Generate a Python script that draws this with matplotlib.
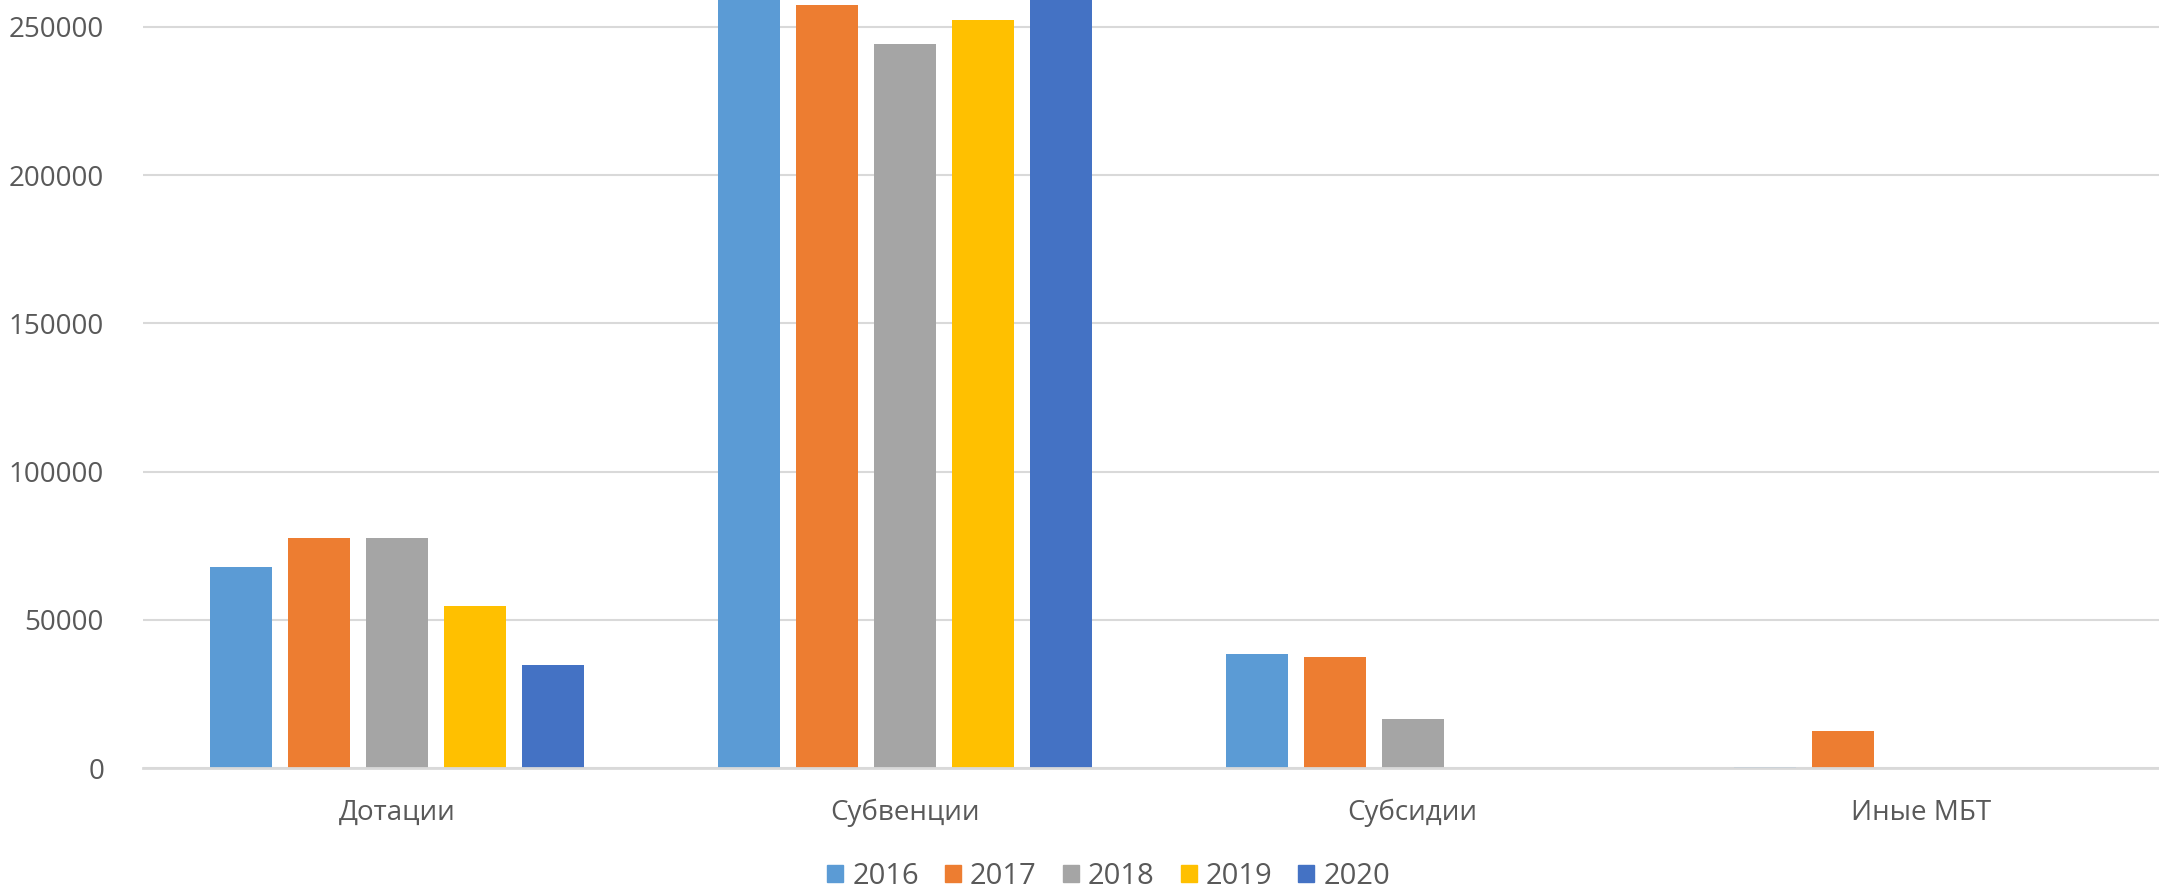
import numpy as np
import matplotlib.pyplot as plt
from matplotlib.patches import Patch

plt.rcParams['font.family'] = ['Open Sans', 'DejaVu Sans']

categories = ["Дотации", "Субвенции", "Субсидии", "Иные МБТ"]
years = ["2016", "2017", "2018", "2019", "2020"]
values = {
    "2016": [68000, 275000, 38600, 500],
    "2017": [77600, 257400, 37600, 12600],
    "2018": [77600, 244400, 16700, 0],
    "2019": [54800, 252400, 0, 0],
    "2020": [34900, 268000, 0, 0],
}
colors = ["#5B9BD5", "#ED7D31", "#A5A5A5", "#FFC000", "#4472C4"]
yticks = [0, 50000, 100000, 150000, 200000, 250000]

fig = plt.figure(figsize=(21.59, 8.88), dpi=100)
# plot area runs a little past the right edge, as in the cropped original
ax = fig.add_axes([0.0662, 0.135, 0.941, 0.865])

x = np.arange(len(categories))
width = 0.122
pitch = 0.1535
for i, year in enumerate(years):
    offset = (i - 2) * pitch
    ax.bar(x + offset, values[year], width, color=colors[i], zorder=3)

ax.set_xlim(-0.5, len(categories) - 0.5)
ax.set_ylim(0, 259100)
ax.set_yticks(yticks)
ax.set_yticklabels([str(t) for t in yticks])
ax.set_xticks(x)
ax.set_xticklabels(categories)
ax.tick_params(axis='both', length=0, labelsize=20, colors='#595959')
ax.tick_params(axis='x', pad=22)
ax.tick_params(axis='y', pad=28)
ax.grid(axis='y', color='#d9d9d9', linewidth=1.5, zorder=0)
for side in ['top', 'right', 'left']:
    ax.spines[side].set_visible(False)
ax.spines['bottom'].set_color('#d9d9d9')
ax.spines['bottom'].set_linewidth(2)
ax.spines['bottom'].set_zorder(4)

handles = [Patch(color=c, label=y) for c, y in zip(colors, years)]
fig.legend(handles=handles, loc='center', bbox_to_anchor=(0.5135, 0.013),
           ncol=5, frameon=False, fontsize=21, labelcolor='#595959',
           handlelength=0.55, handleheight=0.55, handletextpad=0.3,
           columnspacing=0.9)

fig.savefig("out.png", dpi=100)
